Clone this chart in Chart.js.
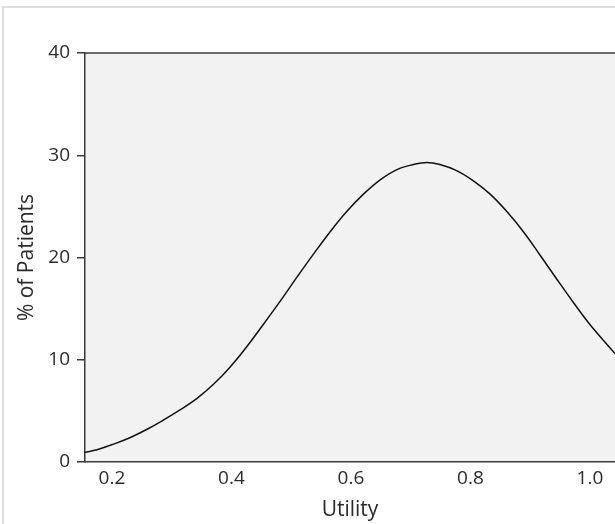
<!DOCTYPE html>
<html>
<head>
<meta charset="utf-8">
<script src="https://cdn.jsdelivr.net/npm/chart.js@4/dist/chart.umd.min.js"></script>
<style>
  html, body { margin: 0; padding: 0; background: #fff; overflow: hidden; }
  #wrap { position: relative; width: 615px; height: 524px; }
  #frame { position: absolute; left: 2px; top: 6px; width: 700px; height: 600px;
           border-left: 2px solid #dedede; border-top: 2px solid #dedede; }
  canvas { position: absolute; left: 0; top: 0; }
</style>
</head>
<body>
<div id="wrap">
  <div id="frame"></div>
  <canvas id="c" width="615" height="524"></canvas>
</div>
<script>
// Utility values (x) and % of patients (y)
const utility = [0.155, 0.175, 0.203, 0.231, 0.259, 0.286, 0.314, 0.342, 0.370, 0.398, 0.426, 0.454, 0.485,
                 0.510, 0.537, 0.565, 0.593, 0.621, 0.649, 0.677, 0.705, 0.727, 0.749, 0.777, 0.805, 0.833,
                 0.861, 0.889, 0.917, 0.945, 0.973, 1.000, 1.042];
const patientsPct = [0.95, 1.2, 1.75, 2.4, 3.2, 4.1, 5.1, 6.2, 7.6, 9.3, 11.3, 13.5, 16.0,
                     18.1, 20.3, 22.5, 24.5, 26.2, 27.6, 28.6, 29.1, 29.3, 29.1, 28.5, 27.5, 26.2,
                     24.5, 22.5, 20.2, 17.85, 15.55, 13.45, 10.6];
const xTicks = [0.2, 0.4, 0.6, 0.8, 1.0];
const yTicks = [0, 10, 20, 30, 40];
const xTitle = 'Utility';
const yTitle = '% of Patients';

const FONT = "'Open Sans', 'Lato', sans-serif";
const TEXT = '#2b2b2b';
const AXIS = '#3a3a3a';

const areaPlugin = {
  id: 'area',
  beforeDraw(chart) {
    const { ctx, chartArea: a } = chart;
    ctx.save();
    ctx.fillStyle = '#f2f2f2';
    ctx.fillRect(a.left, a.top, a.right - a.left, a.bottom - a.top);
    ctx.restore();
  },
  afterDraw(chart) {
    const { ctx, chartArea: a } = chart;
    ctx.save();
    ctx.strokeStyle = AXIS;
    ctx.lineWidth = 1.5;
    ctx.beginPath();
    ctx.moveTo(a.left, a.top);
    ctx.lineTo(a.right, a.top);
    ctx.stroke();
    ctx.restore();
  }
};

new Chart(document.getElementById('c'), {
  type: 'line',
  data: {
    datasets: [{
      data: utility.map((x, i) => ({ x: x, y: patientsPct[i] })),
      borderColor: '#111111',
      borderWidth: 1.5,
      pointRadius: 0,
      fill: false,
      tension: 0.4
    }]
  },
  options: {
    responsive: false,
    animation: false,
    devicePixelRatio: 1,
    layout: { padding: { top: 53, left: 0, right: 0, bottom: 0 } },
    plugins: { legend: { display: false }, tooltip: { enabled: false } },
    scales: {
      x: {
        type: 'linear',
        min: utility[0],
        max: utility[utility.length - 1],
        afterBuildTicks(scale) { scale.ticks = xTicks.map(v => ({ value: v })); },
        afterFit(scale) { scale.height = 62; },
        ticks: {
          color: TEXT, font: { family: FONT, size: 19 }, padding: 5,
          callback: v => Number(v).toFixed(1)
        },
        grid: { display: true, drawOnChartArea: false, drawTicks: false, color: AXIS },
        border: { display: true, color: AXIS, width: 1.5 },
        title: { display: true, text: xTitle, color: TEXT, font: { family: FONT, size: 21 }, padding: { top: 0, bottom: 1 } }
      },
      y: {
        min: 0,
        max: 40,
        afterBuildTicks(scale) { scale.ticks = yTicks.map(v => ({ value: v })); },
        afterFit(scale) { scale.width = 85; },
        ticks: { color: TEXT, font: { family: FONT, size: 19 }, padding: 7 },
        grid: { display: true, drawOnChartArea: false, drawTicks: true, tickLength: 8, color: AXIS, lineWidth: 1.5 },
        border: { display: true, color: AXIS, width: 1.5 },
        title: { display: true, text: yTitle, color: TEXT, font: { family: FONT, size: 21 }, padding: { top: 14, bottom: 0 } }
      }
    }
  },
  plugins: [areaPlugin]
});
</script>
</body>
</html>
